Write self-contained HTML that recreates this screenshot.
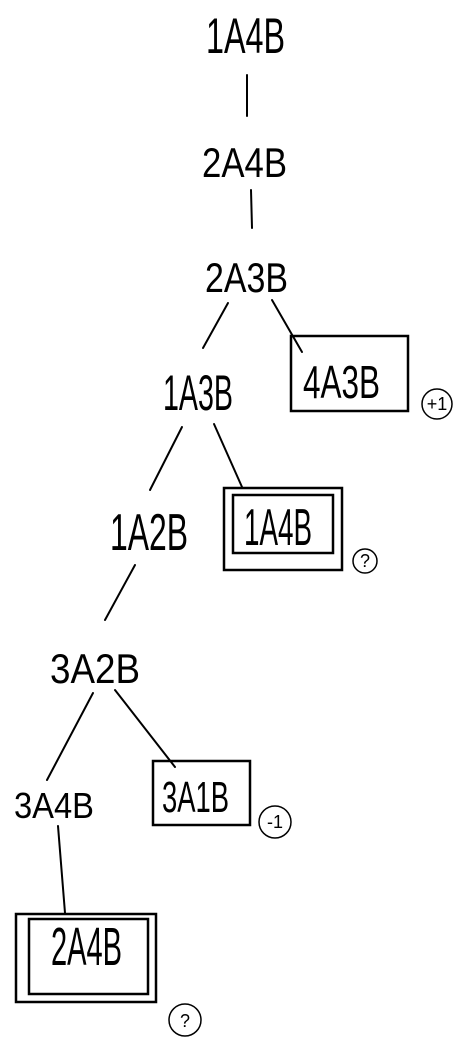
<!DOCTYPE html>
<html><head><style>
html,body{margin:0;padding:0;background:#fff;}
svg{display:block;}
text{font-family:"Liberation Sans",sans-serif;fill:#000;font-weight:normal;}
.s{font-size:18px;}
</style></head><body>
<svg width="460" height="1041" viewBox="0 0 460 1041" xmlns="http://www.w3.org/2000/svg">
<g fill="none" stroke="#000" stroke-width="2" stroke-linecap="round">
<line x1="247" y1="75" x2="247" y2="116"/>
<line x1="251" y1="190" x2="252" y2="228"/>
<line x1="228" y1="303" x2="203" y2="348"/>
<line x1="272" y1="300" x2="302" y2="352"/>
<line x1="182" y1="427" x2="150" y2="490"/>
<line x1="214" y1="424" x2="242" y2="487"/>
<line x1="135" y1="565" x2="105" y2="620"/>
<line x1="93" y1="693" x2="47" y2="780"/>
<line x1="115" y1="690" x2="175" y2="767"/>
<line x1="58" y1="826" x2="65" y2="913"/>
<rect x="291" y="336" width="117" height="75" stroke-width="2.5"/>
<rect x="224" y="488" width="118" height="82" stroke-width="2.5"/>
<rect x="233" y="495" width="100" height="58" stroke-width="2.5"/>
<rect x="153" y="761" width="97" height="64" stroke-width="2.5"/>
<rect x="16" y="914" width="140" height="88" stroke-width="2.5"/>
<rect x="29" y="919" width="119" height="75" stroke-width="2.5"/>
<circle cx="437" cy="404" r="15" stroke-width="1.5"/>
<circle cx="365" cy="561" r="12" stroke-width="1.5"/>
<circle cx="275" cy="822" r="16" stroke-width="1.5"/>
<circle cx="185" cy="1020" r="16" stroke-width="1.5"/>
</g>
<text x="206" y="53" font-size="50" textLength="79" lengthAdjust="spacingAndGlyphs">1A4B</text>
<text x="202" y="177" font-size="42" textLength="85" lengthAdjust="spacingAndGlyphs">2A4B</text>
<text x="205" y="292" font-size="42" textLength="83" lengthAdjust="spacingAndGlyphs">2A3B</text>
<text x="163" y="410" font-size="50" textLength="70" lengthAdjust="spacingAndGlyphs">1A3B</text>
<text x="303" y="398" font-size="46" textLength="77" lengthAdjust="spacingAndGlyphs">4A3B</text>
<text x="110" y="550" font-size="52" textLength="78" lengthAdjust="spacingAndGlyphs">1A2B</text>
<text x="244" y="545" font-size="52" textLength="68" lengthAdjust="spacingAndGlyphs">1A4B</text>
<text x="50" y="683" font-size="42" textLength="90" lengthAdjust="spacingAndGlyphs">3A2B</text>
<text x="162" y="812" font-size="44" textLength="67" lengthAdjust="spacingAndGlyphs">3A1B</text>
<text x="14" y="818" font-size="36" textLength="80" lengthAdjust="spacingAndGlyphs">3A4B</text>
<text x="51" y="965" font-size="54" textLength="71" lengthAdjust="spacingAndGlyphs">2A4B</text>
<text class="s" x="437" y="410" text-anchor="middle">+1</text>
<text class="s" x="365" y="567" text-anchor="middle">?</text>
<text class="s" x="275" y="828" text-anchor="middle">-1</text>
<text class="s" x="185" y="1027" text-anchor="middle">?</text>
</svg>
</body></html>
